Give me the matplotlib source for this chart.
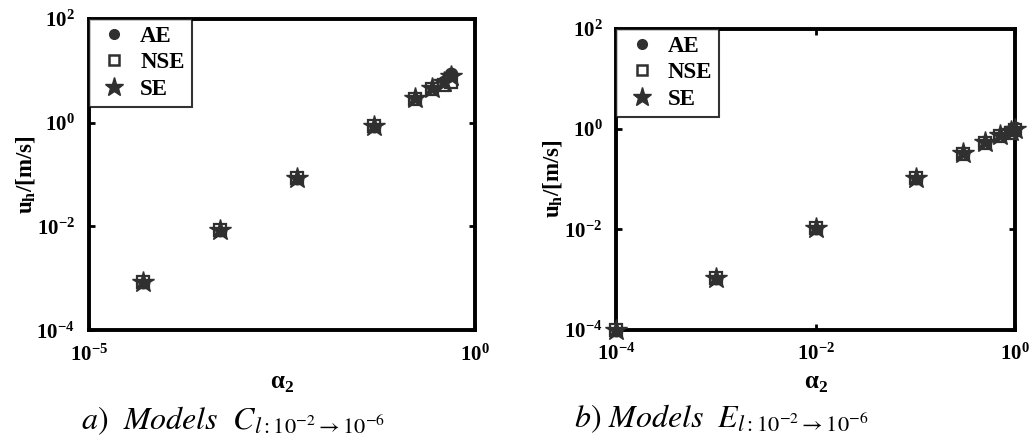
import matplotlib
matplotlib.use("Agg")
import matplotlib.pyplot as plt
from matplotlib.lines import Line2D

# ---- data ----
alpha_C = [5e-5, 5e-4, 5e-3, 5e-2, 0.17, 0.28, 0.40, 0.50]
AE_C = [8.5e-4, 8.7e-3, 0.085, 0.86, 3.0, 4.6, 6.0, 8.6]
NSE_C = [8.5e-4, 8.7e-3, 0.085, 0.85, 2.9, 4.4, 5.4, 6.0]
SE_C = [8.5e-4, 8.7e-3, 0.085, 0.86, 3.0, 4.6, 6.0, 8.0]

alpha_E = [1e-4, 1e-3, 1e-2, 0.1, 0.3, 0.5, 0.7, 0.9, 1.0]
AE_E = [1e-4, 1.05e-3, 1.05e-2, 0.105, 0.33, 0.55, 0.77, 0.9, 1.05]
NSE_E = [1e-4, 1.05e-3, 1.05e-2, 0.105, 0.32, 0.53, 0.74, 0.85, 0.95]
SE_E = [1e-4, 1.05e-3, 1.05e-2, 0.105, 0.33, 0.55, 0.76, 0.9, 1.0]

xticks_C = [1e-5, 1e0]
xticks_E = [1e-4, 1e-2, 1e0]
yticks = [1e-4, 1e-2, 1e0, 1e2]
series_names = ["AE", "NSE", "SE"]
captions = [r"$a)\ \ Models\ \ C_{l:10^{-2}\rightarrow10^{-6}}$",
            r"$b)\ Models\ \ E_{l:10^{-2}\rightarrow10^{-6}}$"]

plt.rcParams["font.family"] = ["Liberation Serif", "DejaVu Serif"]

MC = "#303030"

fig = plt.figure(figsize=(10.32, 4.46), dpi=100)
ax1 = fig.add_axes([88.7 / 1032, 1 - 330.3 / 446, (474.7 - 88.7) / 1032, (330.3 - 18.7) / 446])
ax2 = fig.add_axes([616.3 / 1032, 1 - 329.5 / 446, (1015.3 - 616.3) / 1032, (329.5 - 28.7) / 446])


def draw(ax, x, ae, nse, se, xlim, xticks):
    ax.set_xscale("log")
    ax.set_yscale("log")
    ax.plot(x, ae, "o", ms=9, color=MC, ls="none", clip_on=False, zorder=3)
    ax.plot(x, nse, "s", ms=9, mfc="white", mec=MC, mew=1.6, ls="none", clip_on=False, zorder=4)
    ax.plot(x, se, "*", ms=16, color=MC, ls="none", clip_on=False, zorder=5)
    ax.set_xlim(*xlim)
    ax.set_ylim(1e-4, 1e2)
    ax.set_xticks(xticks)
    ax.set_yticks(yticks)
    ax.minorticks_off()
    for s in ax.spines.values():
        s.set_linewidth(2.8)
    ax.tick_params(which="major", direction="in", length=4, width=2,
                   top=True, right=True, labelsize=15, pad=10)
    for lab in ax.get_xticklabels() + ax.get_yticklabels():
        lab.set_fontweight("bold")
    ax.set_ylabel("u$_{\\mathdefault{h}}$/[m/s]", fontsize=16.5, fontweight="bold", labelpad=-1)
    ax.set_xlabel("α$_{\\mathdefault{2}}$", fontsize=18, fontweight="bold", labelpad=5)

    handles = [
        Line2D([], [], marker="o", ls="none", ms=7, color=MC),
        Line2D([], [], marker="s", ls="none", ms=7, mfc="white", mec=MC, mew=1.8),
        Line2D([], [], marker="*", ls="none", ms=14, color=MC),
    ]
    leg = ax.legend(handles, series_names, loc="upper left", frameon=True, fancybox=False,
                    edgecolor="black", borderaxespad=0.0, handlelength=1.6,
                    handletextpad=0.35, labelspacing=0.25, borderpad=0.3,
                    prop={"family": "Liberation Serif", "weight": "bold", "size": 16.5})
    leg.get_frame().set_linewidth(1.5)
    leg.set_zorder(6)


draw(ax1, alpha_C, AE_C, NSE_C, SE_C, (1e-5, 1e0), xticks_C)
draw(ax2, alpha_E, AE_E, NSE_E, SE_E, (1e-4, 1e0), xticks_E)

fig.text(233 / 1032, 1 - 421 / 446, captions[0], ha="center", va="center",
         fontsize=23, math_fontfamily="stix")
fig.text(721 / 1032, 1 - 419 / 446, captions[1], ha="center", va="center",
         fontsize=23, math_fontfamily="stix")

fig.savefig("out.png", dpi=100)
